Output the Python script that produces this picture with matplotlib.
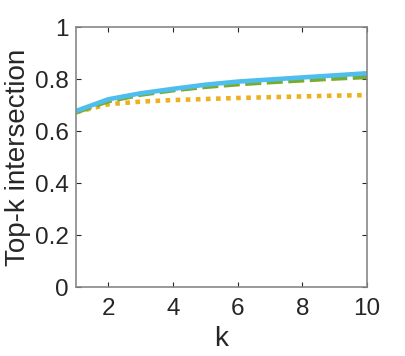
import matplotlib
matplotlib.use("Agg")
import matplotlib.pyplot as plt

k = [1, 2, 3, 4, 5, 6, 7, 8, 9, 10]
blue = [0.677, 0.722, 0.745, 0.762, 0.778, 0.790, 0.798, 0.806, 0.814, 0.822]
green = [0.672, 0.715, 0.740, 0.757, 0.770, 0.780, 0.788, 0.795, 0.802, 0.808]
yellow = [0.672, 0.703, 0.713, 0.719, 0.723, 0.727, 0.730, 0.733, 0.736, 0.738]

plt.rcParams['font.family'] = ['Liberation Sans', 'DejaVu Sans']
fig = plt.figure(figsize=(4.05, 3.56), dpi=100)
ax = fig.add_axes([76/405, 1-287/356, (367-76)/405, (287-27)/356])

ax.plot(k, yellow, color='#EDB120', linestyle=(0, (1, 1.2)), linewidth=3.3)
ax.plot(k, green, color='#77AC30', linestyle=(0, (3.5, 1.2)), linewidth=3.3)
ax.plot(k, blue, color='#4DBEEE', linestyle='-', linewidth=3.3)

ax.set_xlim(1, 10)
ax.set_ylim(0, 1)
ax.set_xticks([2, 4, 6, 8, 10])
ax.set_yticks([0, 0.2, 0.4, 0.6, 0.8, 1])
ax.set_yticklabels(['0', '0.2', '0.4', '0.6', '0.8', '1'])
ax.tick_params(direction='in', top=True, right=True, labelsize=17.5,
               labelcolor='#262626', color='#262626', length=3.5, width=0.8)
ax.tick_params(axis='x', pad=8)
ax.tick_params(axis='y', pad=5)
for sp in ax.spines.values():
    sp.set_color('#888888')
    sp.set_linewidth(1.2)
ax.set_xlabel('k', fontsize=20, color='#262626', labelpad=4)
ax.set_ylabel('Top-k intersection', fontsize=20, color='#262626', labelpad=3)

fig.savefig('out.png', dpi=100)
